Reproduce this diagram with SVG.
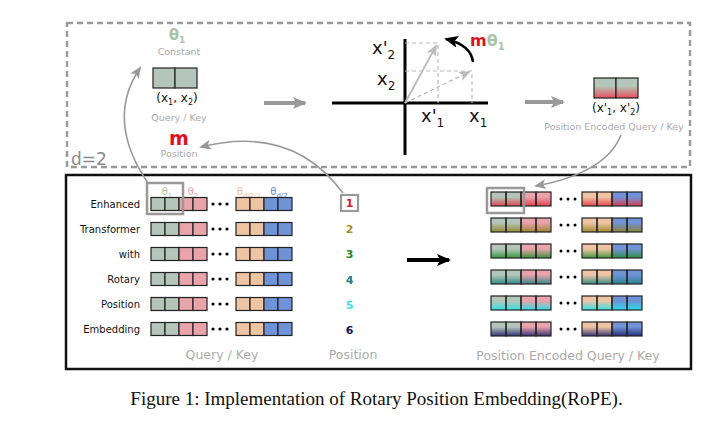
<svg xmlns="http://www.w3.org/2000/svg" xmlns:xlink="http://www.w3.org/1999/xlink" width="720" height="439" viewBox="0 0 720 439">
<style>
text{font-family:"DejaVu Sans",sans-serif}
text.cap{font-family:"Liberation Serif",serif}
.g{fill:#b4c6b9}.p{fill:#e8a3ab}.o{fill:#efc4a4}.b{fill:#6f93d6}
.cell{stroke:#222;stroke-width:1.2}
.out{fill:none;stroke:#222;stroke-width:1.2}
.lbl{font-size:10px;fill:#111;text-anchor:end}
.gray{fill:#aaa}
.num{font-size:11px;font-weight:bold;text-anchor:middle}
.curve{fill:none;stroke:#999;stroke-width:1.6}
.thick{fill:none;stroke:#999;stroke-width:4}
.dash{fill:none;stroke:#bbb;stroke-width:1.2;stroke-dasharray:4,3}
</style>
<defs>
<marker id="ah" markerUnits="userSpaceOnUse" markerWidth="12" markerHeight="10" refX="10" refY="5" orient="auto"><path d="M0,0 L12,5 L0,10 L3,5 Z" fill="#999"/></marker>
<marker id="ahBig" markerUnits="userSpaceOnUse" markerWidth="14" markerHeight="12" refX="12" refY="6" orient="auto"><path d="M0,0 L14,6 L0,12 L3,6 Z" fill="#999"/></marker>
<marker id="ahK" markerUnits="userSpaceOnUse" markerWidth="14" markerHeight="12" refX="12" refY="6" orient="auto"><path d="M0,0 L14,6 L0,12 L3,6 Z" fill="#000"/></marker>
<marker id="ahL" markerUnits="userSpaceOnUse" markerWidth="12" markerHeight="10" refX="10" refY="5" orient="auto"><path d="M0,0 L12,5 L0,10 L3,5 Z" fill="#bbb"/></marker>
<linearGradient id="gr1" x1="0" y1="0" x2="0" y2="1"><stop offset="0.35" stop-color="#e4303c" stop-opacity="0"/><stop offset="1" stop-color="#e4303c" stop-opacity="0.85"/></linearGradient>
<linearGradient id="gr2" x1="0" y1="0" x2="0" y2="1"><stop offset="0.35" stop-color="#8f7d18" stop-opacity="0"/><stop offset="1" stop-color="#8f7d18" stop-opacity="0.85"/></linearGradient>
<linearGradient id="gr3" x1="0" y1="0" x2="0" y2="1"><stop offset="0.35" stop-color="#1f8f2a" stop-opacity="0"/><stop offset="1" stop-color="#1f8f2a" stop-opacity="0.85"/></linearGradient>
<linearGradient id="gr4" x1="0" y1="0" x2="0" y2="1"><stop offset="0.35" stop-color="#178080" stop-opacity="0"/><stop offset="1" stop-color="#178080" stop-opacity="0.85"/></linearGradient>
<linearGradient id="gr5" x1="0" y1="0" x2="0" y2="1"><stop offset="0.35" stop-color="#20e4ec" stop-opacity="0"/><stop offset="1" stop-color="#20e4ec" stop-opacity="0.9"/></linearGradient>
<linearGradient id="gr6" x1="0" y1="0" x2="0" y2="1"><stop offset="0.35" stop-color="#1a1a6a" stop-opacity="0"/><stop offset="1" stop-color="#1a1a6a" stop-opacity="0.85"/></linearGradient>
<linearGradient id="grTop" x1="0" y1="0" x2="0" y2="1"><stop offset="0" stop-color="#b4c6b9"/><stop offset="0.4" stop-color="#b4c6b9"/><stop offset="1" stop-color="#e8505a"/></linearGradient>
<g id="rowL">
<rect class="cell g" x="151" y="-6.5" width="14" height="13"/><rect class="cell g" x="165" y="-6.5" width="14" height="13"/>
<rect class="cell p" x="179" y="-6.5" width="14" height="13"/><rect class="cell p" x="193" y="-6.5" width="14" height="13"/>
<circle cx="213" cy="0" r="1.6"/><circle cx="220" cy="0" r="1.6"/><circle cx="227" cy="0" r="1.6"/>
<rect class="cell o" x="236" y="-6.5" width="14" height="13"/><rect class="cell o" x="250" y="-6.5" width="14" height="13"/>
<rect class="cell b" x="264" y="-6.5" width="14" height="13"/><rect class="cell b" x="278" y="-6.5" width="14" height="13"/>
</g>
<g id="rowRfill">
<rect class="g" x="491" y="-7" width="15" height="14"/><rect class="g" x="506" y="-7" width="15" height="14"/>
<rect class="p" x="521" y="-7" width="15" height="14"/><rect class="p" x="536" y="-7" width="15" height="14"/>
<rect class="o" x="582" y="-7" width="15" height="14"/><rect class="o" x="597" y="-7" width="15" height="14"/>
<rect class="b" x="612" y="-7" width="15" height="14"/><rect class="b" x="627" y="-7" width="15" height="14"/>
<circle cx="561" cy="0" r="1.5"/><circle cx="568" cy="0" r="1.5"/><circle cx="575" cy="0" r="1.5"/>
</g>
<g id="rowRout">
<rect class="out" x="491" y="-7" width="15" height="14"/><rect class="out" x="506" y="-7" width="15" height="14"/>
<rect class="out" x="521" y="-7" width="15" height="14"/><rect class="out" x="536" y="-7" width="15" height="14"/>
<rect class="out" x="582" y="-7" width="15" height="14"/><rect class="out" x="597" y="-7" width="15" height="14"/>
<rect class="out" x="612" y="-7" width="15" height="14"/><rect class="out" x="627" y="-7" width="15" height="14"/>
</g>
</defs>
<rect width="720" height="439" fill="#fff"/>

<g id="frames">
<rect x="67" y="23" width="623" height="144" fill="none" stroke="#9a9a9a" stroke-width="2.5" stroke-dasharray="6,4"/>
<text x="71" y="165" font-size="17" fill="#8a8a8a">d=2</text>
<rect x="66" y="175" width="625" height="194" fill="none" stroke="#111" stroke-width="2.5"/>
</g>

<g id="node-query-key-2d">
<text x="177" y="40" font-size="15" font-weight="bold" fill="#a8c4a8" text-anchor="middle">θ<tspan font-size="9" dy="3">1</tspan></text>
<text x="179" y="55" font-size="9.5" class="gray" text-anchor="middle">Constant</text>
<rect class="cell g" x="153" y="68" width="22" height="20"/><rect class="cell g" x="175" y="68" width="22" height="20"/>
<text x="177" y="102" font-size="12" fill="#111" text-anchor="middle">(x<tspan font-size="8" dy="3">1</tspan><tspan dy="-3">, x</tspan><tspan font-size="8" dy="3">2</tspan><tspan dy="-3">)</tspan></text>
<text x="179" y="121" font-size="9.5" class="gray" text-anchor="middle">Query / Key</text>
<text x="179" y="145" font-size="19" font-weight="bold" fill="#e01020" text-anchor="middle">m</text>
<text x="179" y="157" font-size="9.5" class="gray" text-anchor="middle">Position</text>
</g>

<g id="node-rotation">
<path d="M332 103 H488 M405 39 V155" stroke="#000" stroke-width="3" fill="none"/>
<path class="dash" d="M405 43 H438 V103 M405 71 H472 V103"/>
<path d="M405 103 L436 46" stroke="#bbb" stroke-width="1.8" fill="none" marker-end="url(#ahL)"/>
<path class="dash" d="M405 103 L469 72" marker-end="url(#ahL)"/>
<text x="372" y="54" font-size="18" fill="#111">x'<tspan font-size="12" dy="5">2</tspan></text>
<text x="377" y="85" font-size="18" fill="#111">x<tspan font-size="12" dy="5">2</tspan></text>
<text x="421" y="122" font-size="18" fill="#111">x'<tspan font-size="12" dy="5">1</tspan></text>
<text x="469" y="122" font-size="18" fill="#111">x<tspan font-size="12" dy="5">1</tspan></text>
<path d="M473 62 Q471 45 446 39" stroke="#000" stroke-width="2.5" fill="none" marker-end="url(#ahK)"/>
<text x="470" y="46" font-size="16" font-weight="bold" fill="#e01020">m<tspan fill="#a8c4a8">θ</tspan><tspan fill="#a8c4a8" font-size="10" dy="4">1</tspan></text>
</g>

<g id="node-encoded-2d">
<rect x="594" y="78" width="22" height="20" fill="url(#grTop)" stroke="#222" stroke-width="1.2"/>
<rect x="616" y="78" width="22" height="20" fill="url(#grTop)" stroke="#222" stroke-width="1.2"/>
<text x="616" y="112" font-size="12" fill="#111" text-anchor="middle">(x'<tspan font-size="8" dy="3">1</tspan><tspan dy="-3">, x'</tspan><tspan font-size="8" dy="3">2</tspan><tspan dy="-3">)</tspan></text>
<text x="614" y="130" font-size="9.5" class="gray" text-anchor="middle">Position Encoded Query / Key</text>
</g>

<g id="node-query-key-rows">
<text x="167" y="195" font-size="10" fill="#a8c4a8" text-anchor="middle">θ<tspan font-size="7" dy="3">1</tspan></text>
<text x="193" y="195" font-size="10" fill="#e8a3ab" text-anchor="middle">θ<tspan font-size="7" dy="3">2</tspan></text>
<text x="249" y="195" font-size="10" fill="#efbb98" text-anchor="middle">θ<tspan font-size="7" dy="3">d/2-1</tspan></text>
<text x="279" y="195" font-size="10" fill="#5f86d0" text-anchor="middle">θ<tspan font-size="7" dy="3">d/2</tspan></text>
<use xlink:href="#rowL" y="204"/>
<use xlink:href="#rowL" y="229"/>
<use xlink:href="#rowL" y="254"/>
<use xlink:href="#rowL" y="279"/>
<use xlink:href="#rowL" y="304"/>
<use xlink:href="#rowL" y="329"/>
<text class="lbl" x="140" y="207.5">Enhanced</text>
<text class="lbl" x="140" y="232.5">Transformer</text>
<text class="lbl" x="140" y="257.5">with</text>
<text class="lbl" x="140" y="282.5">Rotary</text>
<text class="lbl" x="140" y="307.5">Position</text>
<text class="lbl" x="140" y="332.5">Embedding</text>
<rect x="147" y="183" width="36" height="31" fill="none" stroke="#999" stroke-width="2.5"/>
<text x="222" y="359" font-size="12.5" class="gray" text-anchor="middle">Query / Key</text>
</g>

<g id="node-positions">
<rect x="341" y="195" width="17" height="16" fill="none" stroke="#999" stroke-width="2.2"/>
<text class="num" x="349.5" y="207" fill="#d8202c">1</text>
<text class="num" x="349.5" y="233" fill="#a09030">2</text>
<text class="num" x="349.5" y="258" fill="#208a30">3</text>
<text class="num" x="349.5" y="284" fill="#208080">4</text>
<text class="num" x="349.5" y="309" fill="#40e0e8">5</text>
<text class="num" x="349.5" y="334" fill="#101060">6</text>
<text x="353" y="359" font-size="12.5" class="gray" text-anchor="middle">Position</text>
</g>

<g id="node-encoded-rows">
<use xlink:href="#rowRfill" y="199"/>
<rect x="491" y="192" width="60" height="14" fill="url(#gr1)"/><rect x="582" y="192" width="60" height="14" fill="url(#gr1)"/>
<use xlink:href="#rowRout" y="199"/>
<use xlink:href="#rowRfill" y="225"/>
<rect x="491" y="218" width="60" height="14" fill="url(#gr2)"/><rect x="582" y="218" width="60" height="14" fill="url(#gr2)"/>
<use xlink:href="#rowRout" y="225"/>
<use xlink:href="#rowRfill" y="251"/>
<rect x="491" y="244" width="60" height="14" fill="url(#gr3)"/><rect x="582" y="244" width="60" height="14" fill="url(#gr3)"/>
<use xlink:href="#rowRout" y="251"/>
<use xlink:href="#rowRfill" y="277"/>
<rect x="491" y="270" width="60" height="14" fill="url(#gr4)"/><rect x="582" y="270" width="60" height="14" fill="url(#gr4)"/>
<use xlink:href="#rowRout" y="277"/>
<use xlink:href="#rowRfill" y="303"/>
<rect x="491" y="296" width="60" height="14" fill="url(#gr5)"/><rect x="582" y="296" width="60" height="14" fill="url(#gr5)"/>
<use xlink:href="#rowRout" y="303"/>
<use xlink:href="#rowRfill" y="329"/>
<rect x="491" y="322" width="60" height="14" fill="url(#gr6)"/><rect x="582" y="322" width="60" height="14" fill="url(#gr6)"/>
<use xlink:href="#rowRout" y="329"/>
<rect x="487" y="188" width="37" height="25" fill="none" stroke="#999" stroke-width="2.5"/>
<text x="568" y="360" font-size="12.5" class="gray" text-anchor="middle">Position Encoded Query / Key</text>
</g>

<g id="connectors">
<path class="thick" d="M264 103 H305" marker-end="url(#ahBig)"/>
<path class="thick" d="M525 102 H563" marker-end="url(#ahBig)"/>
<path d="M407 260 H449" stroke="#000" stroke-width="4" fill="none" marker-end="url(#ahK)"/>
<path class="curve" d="M148 183 Q105 120 140 68" marker-end="url(#ah)"/>
<path class="curve" d="M343 193 Q292 124 201 147" marker-end="url(#ah)"/>
<path class="curve" d="M621 135 Q606 173 536 186" marker-end="url(#ah)"/>
</g>

<text class="cap" x="376.5" y="405" font-size="19" fill="#111" text-anchor="middle">Figure 1: Implementation of Rotary Position Embedding(RoPE).</text>
</svg>
